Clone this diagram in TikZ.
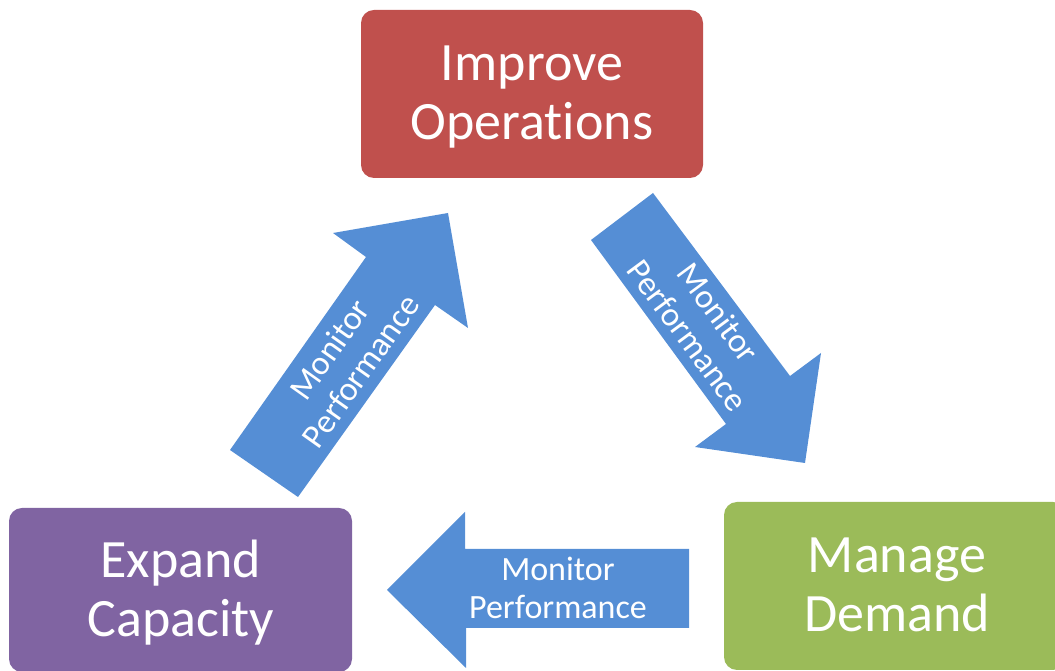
\documentclass[tikz,border=0pt]{standalone}
\usepackage{fontspec}
\setmainfont{Carlito}[Ligatures={NoCommon,NoContextual}, RawFeature={-liga;-clig;-dlig}]
\definecolor{opsred}{HTML}{C0504D}
\definecolor{cappurple}{HTML}{8064A2}
\definecolor{demgreen}{HTML}{9BBB59}
\definecolor{flowblue}{HTML}{558ED5}
\tikzset{
  stagebox/.style={draw=none, rounded corners=13pt, inner sep=0pt},
  stagetext/.style={text=white, align=center, inner sep=0pt,
    font=\fontsize{54}{59}\selectfont},
  flowarrow/.style={fill=flowblue},
  flowtext/.style={text=white, align=center, inner sep=0pt,
    font=\fontsize{34}{38}\selectfont},
}
\begin{document}
\begin{tikzpicture}[x=1pt, y=1pt]
  \useasboundingbox (0,0) rectangle (1055,671);
  \clip (0,0) rectangle (1055,671);

  % stage boxes
  \node[stagebox, fill=opsred, minimum width=342pt, minimum height=168pt] (ops) at (532,577) {};
  \node[stagebox, fill=cappurple, minimum width=343pt, minimum height=164pt] (cap) at (180.5,81) {};
  \node[stagebox, fill=demgreen, minimum width=342pt, minimum height=168pt] (dem) at (895,85) {};

  \node[stagetext] (opstext) at (532,574) {Improve\\Operations};
  \node[stagetext] (captext) at (181,78) {Expand\\Capacity};
  \node[stagetext] (demtext) at (897,86) {Manage\\Demand};

  % block arrows between the stages
  \fill[flowarrow] (230,221) -- (366,414) -- (333,438) -- (448,458) -- (468,343) -- (435,366) -- (298,174) -- cycle;
  \fill[flowarrow] (591,431) -- (653,478) -- (790,295) -- (821,318) -- (805,208) -- (695,224) -- (726,247) -- cycle;
  \fill[flowarrow] (387,81) -- (465,159) -- (465,122) -- (689,122) -- (689,43) -- (466,43) -- (466,3) -- cycle;

  \node[flowtext, rotate=54.7] (uptext) at (345,311) {Monitor\\Performance};
  \node[flowtext, rotate=-53.5] (downtext) at (703,347) {Monitor\\Performance};
  \node[flowtext] (lefttext) at (558,83) {Monitor\\Performance};
\end{tikzpicture}
\end{document}
